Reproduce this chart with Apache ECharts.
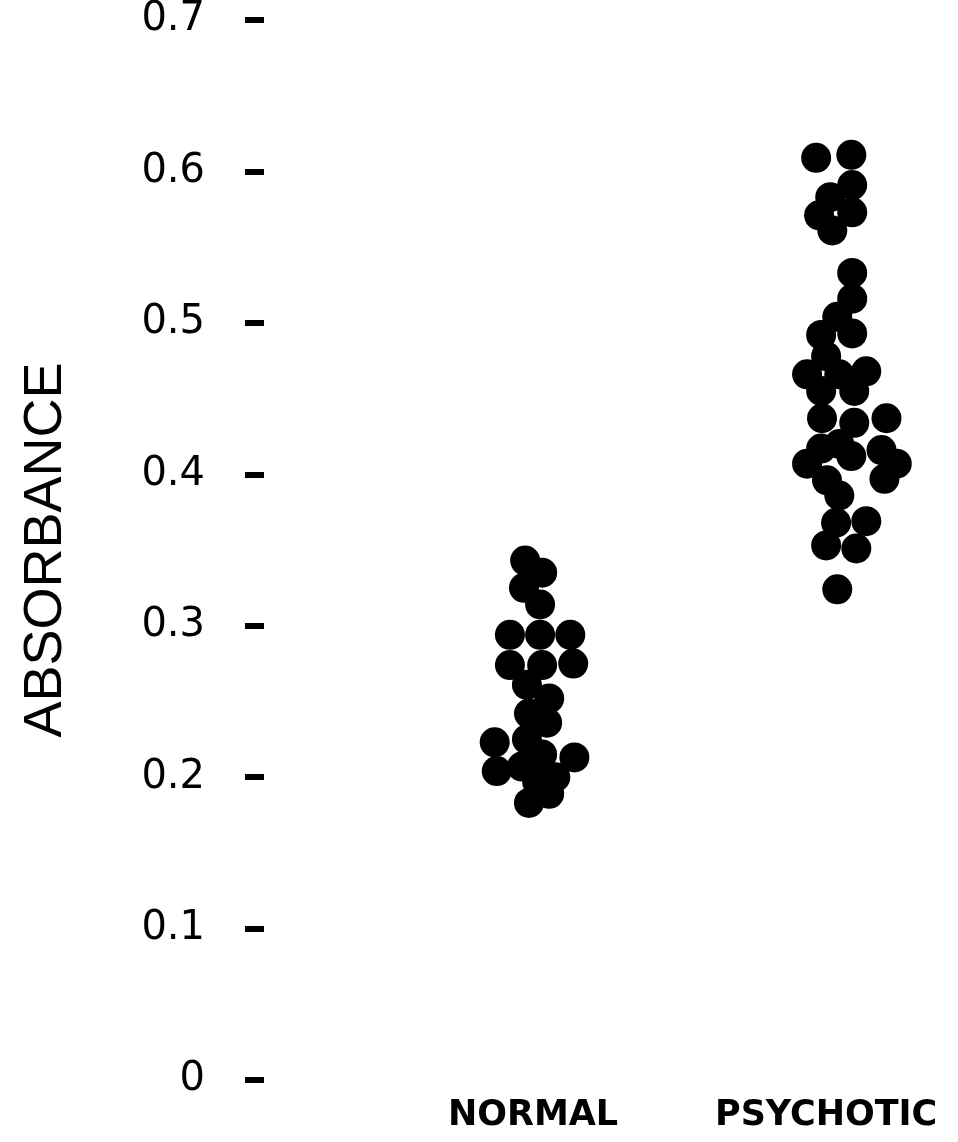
<!DOCTYPE html>
<html>
<head>
<meta charset="utf-8">
<script src="https://cdn.jsdelivr.net/npm/echarts@6/dist/echarts.min.js"></script>
<style>html,body{margin:0;padding:0;background:#fff}#c{width:958px;height:1142px}</style>
</head>
<body>
<div id="c"></div>
<script>
var categories = ['NORMAL', 'PSYCHOTIC'];
var yTicks = [0, 0.1, 0.2, 0.3, 0.4, 0.5, 0.6, 0.7];

var normalValues = [0.343, 0.335, 0.325, 0.314, 0.294, 0.294, 0.294, 0.274, 0.274, 0.275,
  0.261, 0.252, 0.242, 0.236, 0.223, 0.225, 0.215, 0.213, 0.204, 0.207, 0.200, 0.197, 0.189, 0.183];
var normalJitter = [-0.027, 0.031, -0.031, 0.024, -0.079, 0.024, 0.127, -0.079, 0.031, 0.137,
  -0.021, 0.055, -0.014, 0.048, -0.131, -0.021, 0.031, 0.141, -0.124, -0.038, 0.076, 0.014, 0.055, -0.014];

var psychoticValues = [0.609, 0.611, 0.591, 0.583, 0.571, 0.573, 0.561, 0.533, 0.516, 0.504,
  0.492, 0.493, 0.478, 0.466, 0.468, 0.466, 0.455, 0.455, 0.437, 0.434,
  0.437, 0.407, 0.417, 0.412, 0.416, 0.407, 0.397, 0.396, 0.386, 0.368,
  0.369, 0.353, 0.351, 0.324, 0.420];
var psychoticJitter = [-0.034, 0.086, 0.089, 0.014, -0.024, 0.089, 0.021, 0.089, 0.089, 0.038,
  -0.017, 0.089, 0.000, -0.065, 0.137, 0.045, -0.017, 0.096, -0.014, 0.096,
  0.206, -0.065, -0.017, 0.086, 0.189, 0.241, 0.199, 0.003, 0.045, 0.034,
  0.137, 0.000, 0.103, 0.038, 0.045];

function build(values, jitter, groupIndex) {
  return values.map(function (v, i) { return [groupIndex + 1 + jitter[i], v]; });
}

var chart = echarts.init(document.getElementById('c'), null, {renderer: 'canvas'});
chart.setOption({
  backgroundColor: '#ffffff',
  animation: false,
  grid: {left: 240, right: 0, top: 14, bottom: 62, containLabel: false},
  xAxis: {
    type: 'value', min: 0, max: 2.45, interval: 1,
    axisLine: {show: false}, axisTick: {show: false}, splitLine: {show: false},
    axisLabel: {
      margin: 18, showMaxLabel: false, showMinLabel: false,
      fontFamily: 'DejaVu Sans', fontWeight: 'bold', fontSize: 35, color: '#000',
      formatter: function (v) { return (v === 1 || v === 2) ? categories[v - 1] : ''; }
    }
  },
  yAxis: {
    type: 'value', min: 0, max: 0.7, interval: 0.1, offset: -24,
    name: 'ABSORBANCE', nameLocation: 'middle', nameGap: 191,
    nameTextStyle: {fontFamily: 'Liberation Sans', fontSize: 54, color: '#000'},
    axisLine: {show: false},
    axisTick: {show: true, inside: false, length: 19, lineStyle: {color: '#000', width: 6}},
    splitLine: {show: false},
    axisLabel: {
      margin: 59, fontFamily: 'DejaVu Sans', fontSize: 40, color: '#000',
      formatter: function (v) {
        var t = yTicks.filter(function (k) { return Math.abs(k - v) < 1e-9; });
        return t.length ? String(t[0]) : '';
      }
    }
  },
  series: [
    {type: 'scatter', symbol: 'circle', symbolSize: 30, itemStyle: {color: '#000', opacity: 1},
     data: build(normalValues, normalJitter, 0)},
    {type: 'scatter', symbol: 'circle', symbolSize: 30, itemStyle: {color: '#000', opacity: 1},
     data: build(psychoticValues, psychoticJitter, 1)}
  ]
});
</script>
</body>
</html>
